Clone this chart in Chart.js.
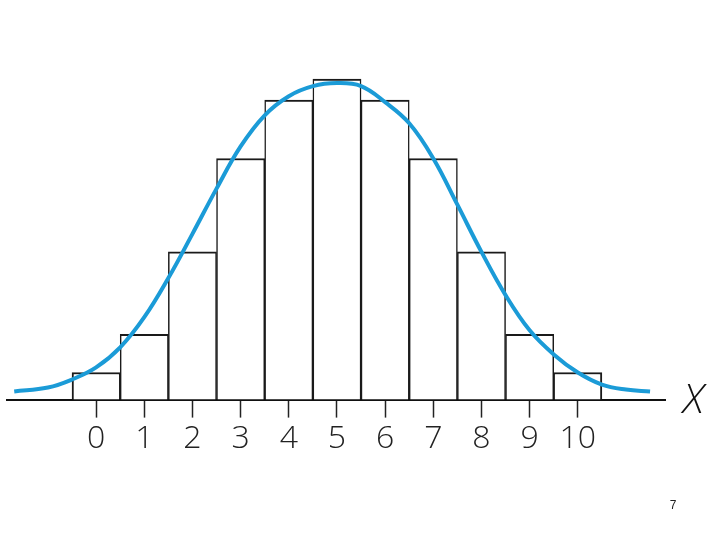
<!DOCTYPE html>
<html>
<head>
<meta charset="utf-8">
<script src="https://cdn.jsdelivr.net/npm/chart.js@4.4.0/dist/chart.umd.min.js"></script>
<style>
    body { margin: 0; background: #fff; }
    #wrap { width: 720px; height: 540px; }
</style>
</head>
<body>
<div id="wrap"><canvas id="chart" width="720" height="540"></canvas></div>
<script>
// histogram bars (x = value, height)
const barX = [0, 1, 2, 3, 4, 5, 6, 7, 8, 9, 10];
const barHeights = [27, 65, 147, 240, 298, 319, 298, 240, 147, 65, 27];

// the fitted bell curve
const curveX = [-1.7, -1, -0.5, 0, 0.5, 1, 1.5, 2, 2.5, 3, 3.5, 4, 4.5, 5, 5.5, 6, 6.5, 7, 7.5, 8, 8.5, 9, 9.5, 10, 10.5, 11, 11.5];
const curveY = [8, 12, 20, 32, 52, 82, 121, 165, 210, 252, 283, 302, 312, 315, 312, 296, 275, 240, 194, 147, 104, 69, 45, 27, 15, 10, 8];

const tickLabels = ['0', '1', '2', '3', '4', '5', '6', '7', '8', '9', '10'];
const axisLabel = 'X';
const pageNumber = '7';

const barData = barX.map((x, i) => ({ x: x, y: barHeights[i] }));
const curveData = curveX.map((x, i) => ({ x: x, y: curveY[i] }));

// extra text: the italic X at the end of the axis and the page number
const extraText = {
    id: 'extraText',
    afterDraw(chart) {
        const ctx = chart.ctx;
        const xs = chart.scales.x;
        const ys = chart.scales.y;
        ctx.save();
        ctx.fillStyle = '#111';
        ctx.font = 'italic 300 41px "Open Sans", sans-serif';
        ctx.textAlign = 'left';
        ctx.textBaseline = 'middle';
        ctx.fillText(axisLabel, xs.right + 18, ys.getPixelForValue(0) + 2);
        ctx.font = '12px "Liberation Sans", sans-serif';
        ctx.fillStyle = '#222';
        ctx.textAlign = 'center';
        ctx.fillText(pageNumber, 673, 506);
        ctx.restore();
    }
};

// shared edges between neighbouring bars should look like one line
const lastBar = barX.length - 1;

new Chart(document.getElementById('chart'), {
    data: {
        datasets: [
            {
                type: 'line',
                data: curveData,
                borderColor: '#1b9bd7',
                borderWidth: 4,
                pointRadius: 0,
                tension: 0.4,
                fill: false,
                order: 0
            },
            {
                type: 'bar',
                data: barData,
                backgroundColor: '#ffffff',
                borderColor: '#1a1a1a',
                borderWidth: (c) => ({
                    top: 2,
                    bottom: 0,
                    left: c.dataIndex === 0 ? 2 : 1.5,
                    right: c.dataIndex === lastBar ? 2 : 1.5
                }),
                borderSkipped: false,
                barPercentage: 1,
                categoryPercentage: 1,
                order: 1
            }
        ]
    },
    options: {
        responsive: false,
        animation: false,
        layout: { padding: { left: 7, right: 55, top: 58, bottom: 80 } },
        plugins: {
            legend: { display: false },
            tooltip: { enabled: false }
        },
        scales: {
            x: {
                type: 'linear',
                offset: false,
                min: -1.85,
                max: 11.81,
                afterBuildTicks: (scale) => {
                    scale.ticks = barX.map(v => ({ value: v }));
                },
                ticks: {
                    callback: (v) => tickLabels[barX.indexOf(v)],
                    color: '#222',
                    font: { family: '"Open Sans", sans-serif', size: 32, weight: 300 },
                    padding: 2,
                    maxRotation: 0,
                    autoSkip: false
                },
                grid: {
                    offset: false,
                    drawOnChartArea: false,
                    drawTicks: true,
                    tickLength: 18,
                    tickColor: '#222',
                    tickWidth: 1.5
                },
                border: { display: true, color: '#111', width: 2 }
            },
            y: {
                display: false,
                min: 0,
                max: 340
            }
        }
    },
    plugins: [extraText]
});
</script>
</body>
</html>
